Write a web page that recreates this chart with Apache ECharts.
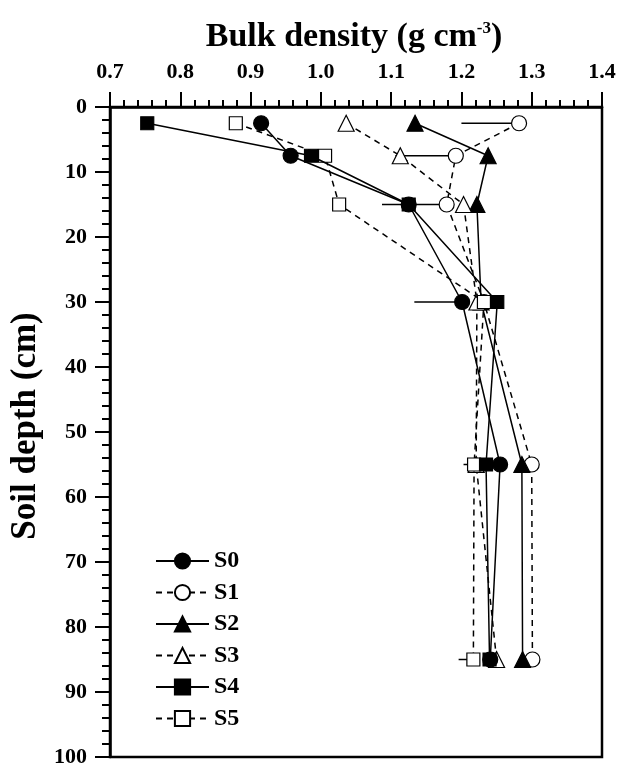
<!DOCTYPE html>
<html>
<head>
<meta charset="utf-8">
<script src="https://cdn.jsdelivr.net/npm/echarts@6/dist/echarts.min.js"></script>
<style>
  html, body { margin: 0; padding: 0; background: #fff; }
  #chart { width: 631px; height: 768px; }
</style>
</head>
<body>
<div id="chart"></div>
<script>
// soil depths (cm) of the sampled layers
var depths = [2.5, 7.5, 15, 30, 55, 85];

// bulk density (g cm-3) per treatment
var s0 = [0.915, 0.957, 1.125, 1.201, 1.255, 1.241];
var s1 = [1.282, 1.192, 1.179, 1.232, 1.300, 1.301];
var s2 = [1.134, 1.238, 1.222, 1.228, 1.286, 1.287];
var s3 = [1.036, 1.113, 1.203, 1.222, 1.221, 1.250];
var s4 = [0.753, 0.986, 1.125, 1.251, 1.235, 1.240];
var s5 = [0.879, 1.006, 1.026, 1.232, 1.218, 1.217];

// error bars (left side only): depth, low end, point value
var errDepth = [2.5, 7.5, 15, 30, 55, 85];
var errLow   = [1.200, 1.106, 1.087, 1.133, 1.203, 1.196];
var errHigh  = [1.282, 1.192, 1.179, 1.201, 1.221, 1.217];

var xTicks = ['0.7', '0.8', '0.9', '1.0', '1.1', '1.2', '1.3', '1.4'];

var FONT = '"Liberation Serif", "Times New Roman", serif';

function pairs(vals) {
	return vals.map(function(v, i) { return [v, depths[i]]; });
}

function makeSeries(name, vals, symbol, size, filled, dashed, z) {
	return {
		name: name,
		type: 'line',
		data: pairs(vals),
		symbol: symbol,
		symbolSize: size,
		z: z,
		lineStyle: {
			color: '#000',
			width: 1.5,
			type: dashed ? [6, 5] : 'solid'
		},
		itemStyle: {
			color: filled ? '#000' : '#fff',
			borderColor: '#000',
			borderWidth: 1.2,
			opacity: 1
		},
		emphasis: { disabled: true },
		animation: false
	};
}

var errData = errDepth.map(function(d, i) { return [errLow[i], errHigh[i], d]; });

var option = {
	backgroundColor: '#fff',
	animation: false,
	title: {
		text: '{a|Bulk density (g cm}{s|-3}{a|)}',
		left: 349,
		top: 15,
		textAlign: 'center',
		textStyle: {
			rich: {
				a: { fontFamily: FONT, fontWeight: 'bold', fontSize: 34, color: '#000' },
				s: { fontFamily: FONT, fontWeight: 'bold', fontSize: 17, color: '#000', verticalAlign: 'top', padding: [0, 0, 18, 0] }
			}
		}
	},
	grid: {
		left: 110,
		right: 29,
		top: 107,
		bottom: 9,
		show: true,
		borderColor: '#000',
		borderWidth: 2.5,
		backgroundColor: 'transparent'
	},
	legend: {
		orient: 'vertical',
		left: 150,
		top: 544,
		itemWidth: 53,
		itemHeight: 19,
		itemGap: 7.5,
		data: ['S0', 'S1', 'S2', 'S3', 'S4', 'S5'],
		textStyle: { fontFamily: FONT, fontWeight: 'bold', fontSize: 24, color: '#000' },
		selectedMode: false
	},
	xAxis: {
		type: 'value',
		position: 'top',
		min: 0.7,
		max: 1.4,
		interval: 0.1,
		axisLine: { show: true, lineStyle: { color: '#000', width: 2.5 } },
		axisTick: { show: true, length: 15, lineStyle: { color: '#000', width: 2 } },
		minorTick: { show: true, splitNumber: 5, length: 7, lineStyle: { color: '#000', width: 2 } },
		splitLine: { show: false },
		axisLabel: {
			margin: 24,
			fontFamily: FONT, fontWeight: 'bold', fontSize: 22, color: '#000',
			formatter: function(v) { return xTicks[Math.round((v - 0.7) * 10)]; }
		}
	},
	yAxis: {
		type: 'value',
		inverse: true,
		min: 0,
		max: 100,
		interval: 10,
		name: 'Soil depth (cm)',
		nameLocation: 'middle',
		nameGap: 63,
		nameRotate: 90,
		nameTextStyle: { fontFamily: FONT, fontWeight: 'bold', fontSize: 35, color: '#000', padding: [0, 0, 0, 12] },
		axisLine: { show: true, lineStyle: { color: '#000', width: 2.5 } },
		axisTick: { show: true, length: 15, lineStyle: { color: '#000', width: 2 } },
		minorTick: { show: true, splitNumber: 5, length: 8, lineStyle: { color: '#000', width: 2 } },
		splitLine: { show: false },
		axisLabel: {
			margin: 23,
			fontFamily: FONT, fontWeight: 'bold', fontSize: 22, color: '#000'
		}
	},
	series: [
		{
			name: 'err',
			type: 'custom',
			data: errData,
			z: 1,
			silent: true,
			renderItem: function(params, api) {
				var a = api.coord([api.value(0), api.value(2)]);
				var b = api.coord([api.value(1), api.value(2)]);
				return {
					type: 'line',
					shape: { x1: a[0], y1: a[1], x2: b[0], y2: b[1] },
					style: { stroke: '#000', lineWidth: 1.5 }
				};
			},
			encode: { x: [0, 1], y: 2 }
		},
		makeSeries('S0', s0, 'circle', 15, true, false, 7),
		makeSeries('S1', s1, 'circle', 15, false, true, 2),
		makeSeries('S2', s2, 'triangle', 16, true, false, 3),
		makeSeries('S3', s3, 'triangle', 16, false, true, 4),
		makeSeries('S4', s4, 'rect', 13, true, false, 6),
		makeSeries('S5', s5, 'rect', 13, false, true, 5)
	]
};

var chart = echarts.init(document.getElementById('chart'), null, { renderer: 'canvas' });
chart.setOption(option);
</script>
</body>
</html>
